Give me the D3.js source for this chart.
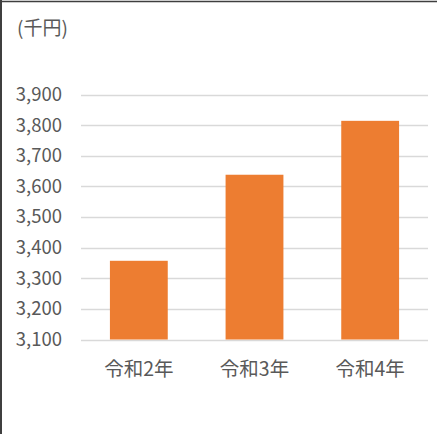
<!DOCTYPE html>
<html>
<head>
<meta charset="utf-8">
<script src="https://cdn.jsdelivr.net/npm/d3@7"></script>
<style>
    html, body { margin: 0; padding: 0; background: #fff; }
    svg { display: block; }
    text { font-family: "Noto Sans CJK JP", "Noto Sans", sans-serif; fill: #595959; }
</style>
</head>
<body>
<svg id="chart" width="437" height="434"></svg>
<script>
// data
const categories = ['令和2年', '令和3年', '令和4年'];
const incomes = [3357, 3638, 3814];
const yTicks = [3100, 3200, 3300, 3400, 3500, 3600, 3700, 3800, 3900];
const unitLabel = '(千円)';

const width = 437;
const height = 434;
const margin = { top: 94.5, right: 9, bottom: 94.5, left: 81 };

const svg = d3.select('#chart');

// frame (left and top edges only are visible)
svg.append('line')
    .attr('x1', 1).attr('y1', 0).attr('x2', 1).attr('y2', height)
    .attr('stroke', '#3f3f3f').attr('stroke-width', 2);
svg.append('line')
    .attr('x1', 0).attr('y1', 1.5).attr('x2', width).attr('y2', 1.5)
    .attr('stroke', '#3f3f3f').attr('stroke-width', 1.5);

const x = d3.scaleBand()
    .domain(categories)
    .range([margin.left, width - margin.right])
    .paddingInner(0.5)
    .paddingOuter(0.25);

const y = d3.scaleLinear()
    .domain([3100, 3900])
    .range([339.5, 94.5]);

// gridlines
svg.append('g')
    .selectAll('line')
    .data(yTicks)
    .enter()
    .append('line')
    .attr('x1', margin.left)
    .attr('x2', width - margin.right)
    .attr('y1', d => Math.round(y(d)) + 0.5)
    .attr('y2', d => Math.round(y(d)) + 0.5)
    .attr('stroke', '#d9d9d9')
    .attr('stroke-width', 1.3);

// y axis labels
const yAxis = d3.axisLeft(y)
    .tickValues(yTicks)
    .tickFormat(d3.format(','))
    .tickSize(0)
    .tickPadding(0);

svg.append('g')
    .attr('transform', 'translate(62,0)')
    .call(yAxis)
    .call(g => g.select('.domain').remove())
    .selectAll('text')
    .attr('font-size', '18.5px')
    .attr('font-family', null)
    .attr('fill', '#595959');

// bars
svg.append('g')
    .selectAll('rect')
    .data(incomes)
    .enter()
    .append('rect')
    .attr('x', (d, i) => x(categories[i]))
    .attr('y', d => y(d))
    .attr('width', x.bandwidth())
    .attr('height', d => y(3100) - y(d))
    .attr('fill', '#ed7d31');

// x axis labels
const xAxis = d3.axisBottom(x)
    .tickSize(0)
    .tickPadding(0);

svg.append('g')
    .attr('transform', 'translate(0,362)')
    .call(xAxis)
    .call(g => g.select('.domain').remove())
    .selectAll('text')
    .attr('font-size', '19.5px')
    .attr('font-family', null)
    .attr('fill', '#595959');

// unit label
svg.append('text')
    .attr('x', 17)
    .attr('y', 35)
    .attr('font-size', '19px')
    .text(unitLabel);
</script>
</body>
</html>
